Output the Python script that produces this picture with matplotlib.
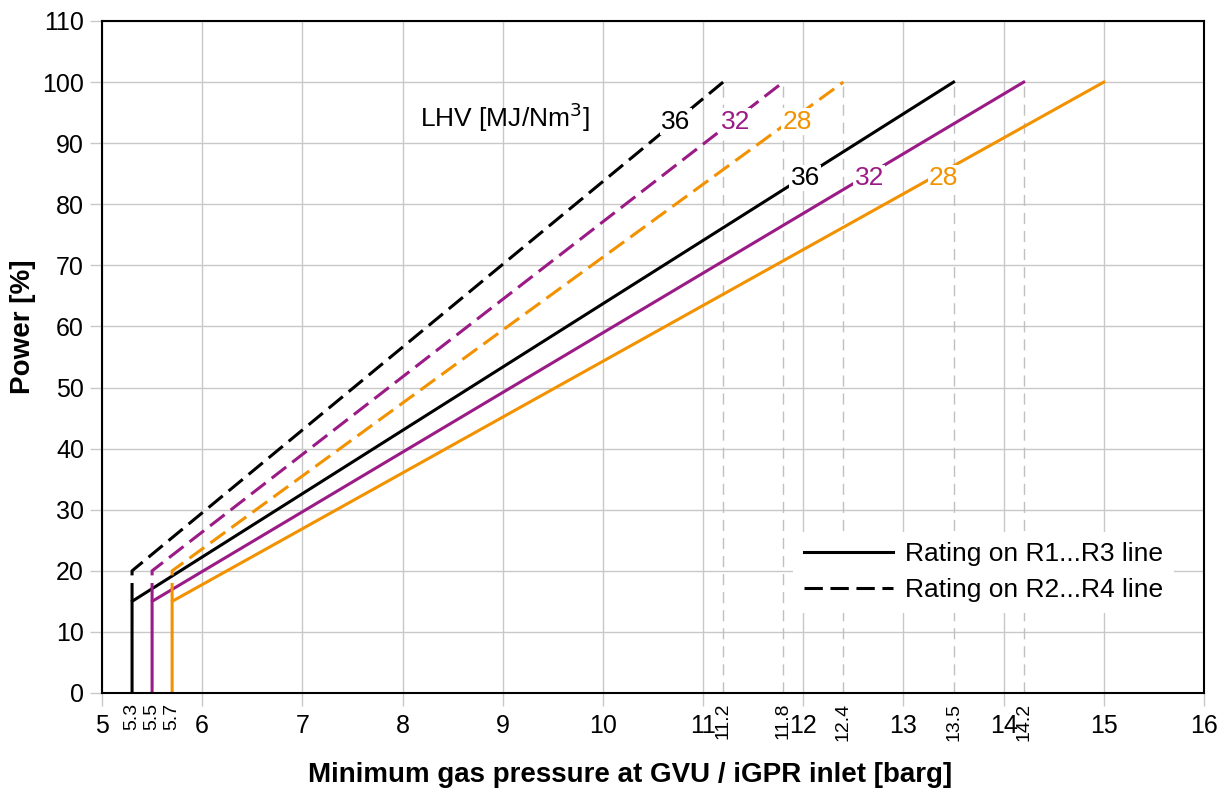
import matplotlib
matplotlib.use("Agg")
import matplotlib.pyplot as plt
from matplotlib.lines import Line2D

plt.rcParams["font.family"] = ["Liberation Sans", "DejaVu Sans"]

# LHV values and line endpoints
lhv = ["36", "32", "28"]
colors = ["#000000", "#9b1b86", "#f39200"]
x_start = [5.3, 5.5, 5.7]
x_end_r13 = [13.5, 14.2, 15.0]   # solid, R1...R3 line
x_end_r24 = [11.2, 11.8, 12.4]   # dashed, R2...R4 line
p_min_r13 = 15
p_min_r24 = 20
p_max = 100

# label positions (x, y) for the LHV numbers
lbl_r24 = [(10.73, 93.5), (11.32, 93.5), (11.94, 93.5)]
lbl_r13 = [(12.02, 84.3), (12.66, 84.3), (13.40, 84.3)]

ref_x = [11.2, 11.8, 12.4, 13.5, 14.2]
extra_ticks = [5.3, 5.5, 5.7, 11.2, 11.8, 12.4, 13.5, 14.2]

DASH = (6, 2.5)
LW = 2.2

fig = plt.figure(figsize=(12.23, 7.92), dpi=100)
ax = fig.add_axes([0.0834, 0.125, 0.9011, 0.8485])

ax.set_xlim(5, 16)
ax.set_ylim(0, 110)
ax.set_xticks(range(5, 17))
ax.set_yticks(range(0, 111, 10))
ax.grid(True, color="#c8c8c8", linewidth=1)
ax.set_axisbelow(True)
ax.tick_params(axis="both", labelsize=18, color="#c8c8c8", length=9, width=1)
ax.tick_params(axis="x", pad=6)
ax.tick_params(axis="y", pad=4)
for s in ax.spines.values():
    s.set_linewidth(1.5)
    s.set_zorder(5)

for x in ref_x:
    ax.plot([x, x], [0, p_max], color="#c0c0c0", linewidth=1, dashes=(8, 5), zorder=1)

for c, x0, xe1, xe2 in zip(colors, x_start, x_end_r13, x_end_r24):
    ax.plot([x0, x0, xe1], [0, p_min_r13, p_max], color=c, linewidth=LW, zorder=3,
            solid_joinstyle="miter")
    ax.plot([x0, x0, xe2], [p_min_r13, p_min_r24, p_max], color=c, linewidth=LW,
            dashes=DASH, zorder=3)

for c, t, (x, y) in zip(colors, lhv, lbl_r24):
    ax.text(x, y, t, color=c, fontsize=19, ha="center", va="center", zorder=4,
            bbox=dict(facecolor="white", edgecolor="none", pad=1))
for c, t, (x, y) in zip(colors, lhv, lbl_r13):
    ax.text(x, y, t, color=c, fontsize=19, ha="center", va="center", zorder=4,
            bbox=dict(facecolor="white", edgecolor="none", pad=1))

ax.text(8.17, 94.3, "LHV [MJ/Nm$^3$]", fontsize=19, ha="left", va="center")

for x in extra_ticks:
    ax.annotate(f"{x:.1f}", xy=(x, 0), xycoords=("data", "axes fraction"),
                xytext=(0, -7), textcoords="offset points", rotation=90,
                ha="center", va="top", fontsize=14)

ax.set_xlabel("Minimum gas pressure at GVU / iGPR inlet [barg]", fontsize=20,
              fontweight="bold", va="center")
ax.set_ylabel("Power [%]", fontsize=20, fontweight="bold", va="center")
ax.xaxis.set_label_coords(0.479, -0.122)
ax.yaxis.set_label_coords(-0.0717, 0.545)

handles = [Line2D([], [], color="black", linewidth=LW),
           Line2D([], [], color="black", linewidth=LW, dashes=DASH)]
leg = ax.legend(handles, ["Rating on R1...R3 line", "Rating on R2...R4 line"],
                loc="center", bbox_to_anchor=(0.80, 0.18), fontsize=19,
                frameon=True, framealpha=1, edgecolor="none", handlelength=3.4,
                handletextpad=0.45, labelspacing=0.45, borderpad=0.4)
leg.get_frame().set_linewidth(0)

fig.savefig("out.png", dpi=100)
